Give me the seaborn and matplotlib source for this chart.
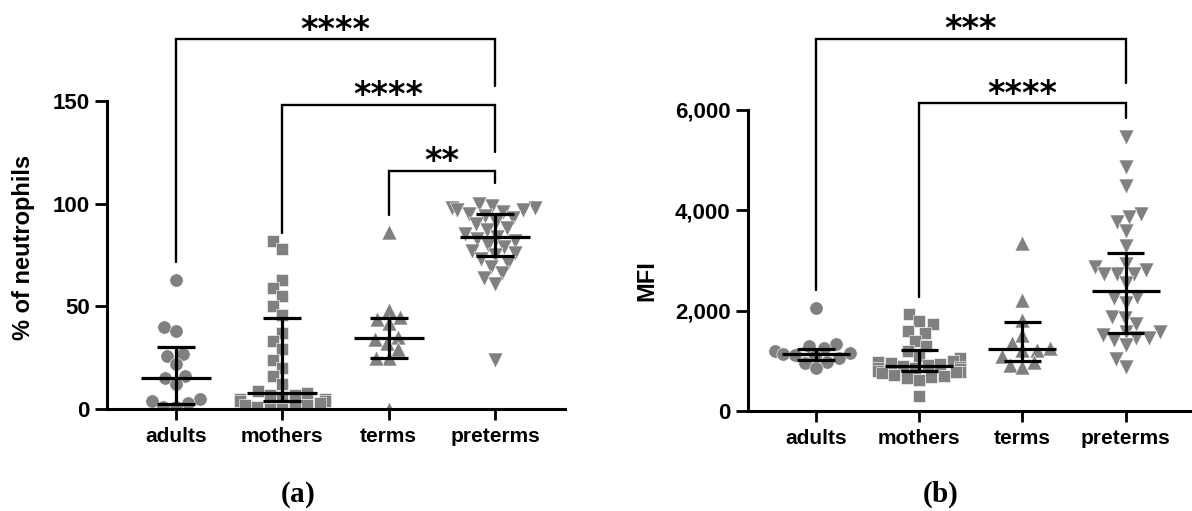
import numpy as np
import pandas as pd
import matplotlib
matplotlib.use("Agg")
import matplotlib.pyplot as plt
import seaborn as sns
from matplotlib.ticker import FuncFormatter

# ---------------- data ----------------
groups = ["adults", "mothers", "terms", "preterms"]
markers = ["o", "s", "^", "v"]

# panel (a): % of neutrophils
pct_adults = [63, 40, 38, 27, 26, 22, 16, 15, 12, 5, 4, 3, 1, 1]
pct_mothers = [82, 78, 63, 59, 55, 50, 46, 37, 33, 29, 24, 20, 16, 12,
               9, 8, 7, 7, 6, 5, 5, 4, 4, 3, 2, 2, 1, 1, 0, 0]
pct_terms = [86, 48, 45, 44, 42, 35, 34, 32, 29, 25, 25, 0]
pct_preterms = [100, 99, 98, 98, 97, 97, 96, 95, 94, 93, 91, 90, 88, 87, 85,
                84, 83, 82, 80, 79, 77, 76, 75, 73, 71, 69, 66, 64, 61, 24]
pct_median = [15, 8, 34.5, 84]
pct_low = [2.4, 4, 25, 74.7]
pct_high = [30, 44.5, 44.5, 95]

# panel (b): MFI
mfi_adults = [2060, 1340, 1300, 1250, 1200, 1160, 1140, 1120, 1090, 1050, 980, 960, 850]
mfi_mothers = [1930, 1800, 1730, 1600, 1550, 1400, 1300, 1200, 1100, 1050, 1000, 980,
               960, 940, 920, 900, 880, 860, 850, 830, 800, 780, 770, 750, 720, 700,
               680, 650, 620, 290]
mfi_terms = [3355, 2213, 1814, 1515, 1349, 1250, 1216, 1216, 1103, 983, 917, 883]
mfi_preterms = [5470, 4870, 4490, 3930, 3870, 3770, 3590, 3280, 2930, 2880, 2810,
                2730, 2730, 2730, 2550, 2280, 2250, 2160, 1880, 1850, 1730, 1580,
                1580, 1520, 1450, 1450, 1420, 1320, 1030, 870]
mfi_median = [1130, 897, 1230, 2398]
mfi_low = [1016, 797, 997, 1548]
mfi_high = [1236, 1216, 1768, 3143]

# significance brackets: (group1, group2, bar height, leg end 1, leg end 2, label, label y)
pct_brackets = [(0, 3, 180.2, 71.6, 157.3, "****", 189.0),
                (1, 3, 148.0, 85.7, 125.0, "****", 157.3),
                (2, 3, 116.0, 94.5, 110.0, "**", 125.2)]
mfi_brackets = [(0, 3, 7410, 2412, 6538, "***", 7793),
                (1, 3, 6145, 2279, 5834, "****", 6498)]

# ---------------- style ----------------
sns.set_theme(style="ticks")
plt.rcParams["font.family"] = ["Liberation Sans", "DejaVu Sans"]
plt.rcParams["font.weight"] = "bold"
for k in ["text.color", "axes.labelcolor", "xtick.color", "ytick.color", "axes.edgecolor"]:
    plt.rcParams[k] = "black"
plt.rcParams["mathtext.fontset"] = "custom"
plt.rcParams["mathtext.rm"] = "Liberation Serif"
plt.rcParams["mathtext.bf"] = "Liberation Serif:bold"

GREY = "#808080"
W, H = 1192, 511
fig = plt.figure(figsize=(W / 100, H / 100), dpi=100)

def px_axes(x0, x1, ybot):
    return fig.add_axes([x0 / W, (H - ybot) / H, (x1 - x0) / W, ybot / H])

axA = px_axes(107, 565, 409)
axB = px_axes(748, 1190, 411)

draw_sizes = {"o": 9.6, "s": 9.2, "^": 10.8, "v": 10.8}
resize = []


def draw_panel(ax, series, med, lo, hi, ytop, ymax_tick, ticks, xlim, brackets, fmt):
    frames = []
    for g, vals in zip(groups, series):
        frames.append(pd.DataFrame({"group": g, "value": vals}))
    df = pd.concat(frames, ignore_index=True)
    ax.set_ylim(0, ytop)
    ax.set_xlim(*xlim)
    for g, m in zip(groups, markers):
        sub = df[df["group"] == g]
        n0 = len(ax.collections)
        sns.swarmplot(data=sub, x="group", y="value", order=groups, marker=m,
                      color=GREY, size=8.3, edgecolor="white", linewidth=0.4,
                      ax=ax, zorder=2, warn_thresh=1.0)
        for coll in ax.collections[n0:]:
            resize.append((coll, draw_sizes[m]))
    ax.set_ylim(0, ytop)
    ax.set_xlim(*xlim)
    xs = np.arange(len(groups))
    ax.hlines(med, xs - 0.33, xs + 0.33, color="black", lw=2.3, zorder=4)
    ax.vlines(xs, lo, hi, color="black", lw=2.3, zorder=4)
    ax.hlines(lo, xs - 0.18, xs + 0.18, color="black", lw=2.3, zorder=4)
    ax.hlines(hi, xs - 0.18, xs + 0.18, color="black", lw=2.3, zorder=4)
    for g1, g2, h, e1, e2, lab, ly in brackets:
        ax.plot([g1, g1, g2, g2], [e1, h, h, e2], color="black", lw=1.7,
                solid_joinstyle="miter", clip_on=False, zorder=4)
        ax.annotate(lab, xy=((g1 + g2) / 2, ly), xytext=(0, -13.5),
                    textcoords="offset points", ha="center", va="baseline",
                    fontsize=24, fontweight="bold", family="DejaVu Sans")
    sns.despine(ax=ax)
    ax.spines["left"].set_bounds(0, ymax_tick)
    for s in ["left", "bottom"]:
        ax.spines[s].set_linewidth(2.2)
    ax.set_yticks(ticks)
    ax.yaxis.set_major_formatter(FuncFormatter(fmt))
    ax.set_xticks(xs)
    ax.set_xticklabels(groups)
    ax.tick_params(axis="y", length=8.5, width=2.0, pad=4, labelsize=16)
    ax.tick_params(axis="x", length=8.0, width=2.0, pad=5, labelsize=15)
    for t in ax.get_xticklabels() + ax.get_yticklabels():
        t.set_fontweight("bold")
    ax.set_xlabel("")
    ax.set_ylabel("")


draw_panel(axA, [pct_adults, pct_mothers, pct_terms, pct_preterms],
           pct_median, pct_low, pct_high, 409 / 2.0533, 150, [0, 50, 100, 150],
           (-0.649, 3.658), pct_brackets, lambda v, p: f"{v:.0f}")
draw_panel(axB, [mfi_adults, mfi_mothers, mfi_terms, mfi_preterms],
           mfi_median, mfi_low, mfi_high, 411 / 0.050167, 6000, [0, 2000, 4000, 6000],
           (-0.659, 3.624), mfi_brackets, lambda v, p: f"{v:,.0f}")

# compute swarm positions, then freeze them and set final marker sizes
fig.canvas.draw()
for coll, sz in resize:
    if "draw" in coll.__dict__:
        del coll.__dict__["draw"]
    coll.set_sizes([sz ** 2])

fig.text(24 / W, (H - 247) / H, "% of neutrophils", rotation=90, ha="center",
         va="center", fontsize=17, fontweight="bold")
fig.text(647 / W, (H - 281) / H, "MFI", rotation=90, ha="center",
         va="center", fontsize=17, fontweight="bold")
fig.text(297 / W, (H - 495) / H, r"$\mathrm{(}\mathbf{a}\mathrm{)}$", ha="center",
         va="center", fontsize=21)
fig.text(940 / W, (H - 495) / H, r"$\mathrm{(}\mathbf{b}\mathrm{)}$", ha="center",
         va="center", fontsize=21)

fig.savefig("out.png", dpi=100)
